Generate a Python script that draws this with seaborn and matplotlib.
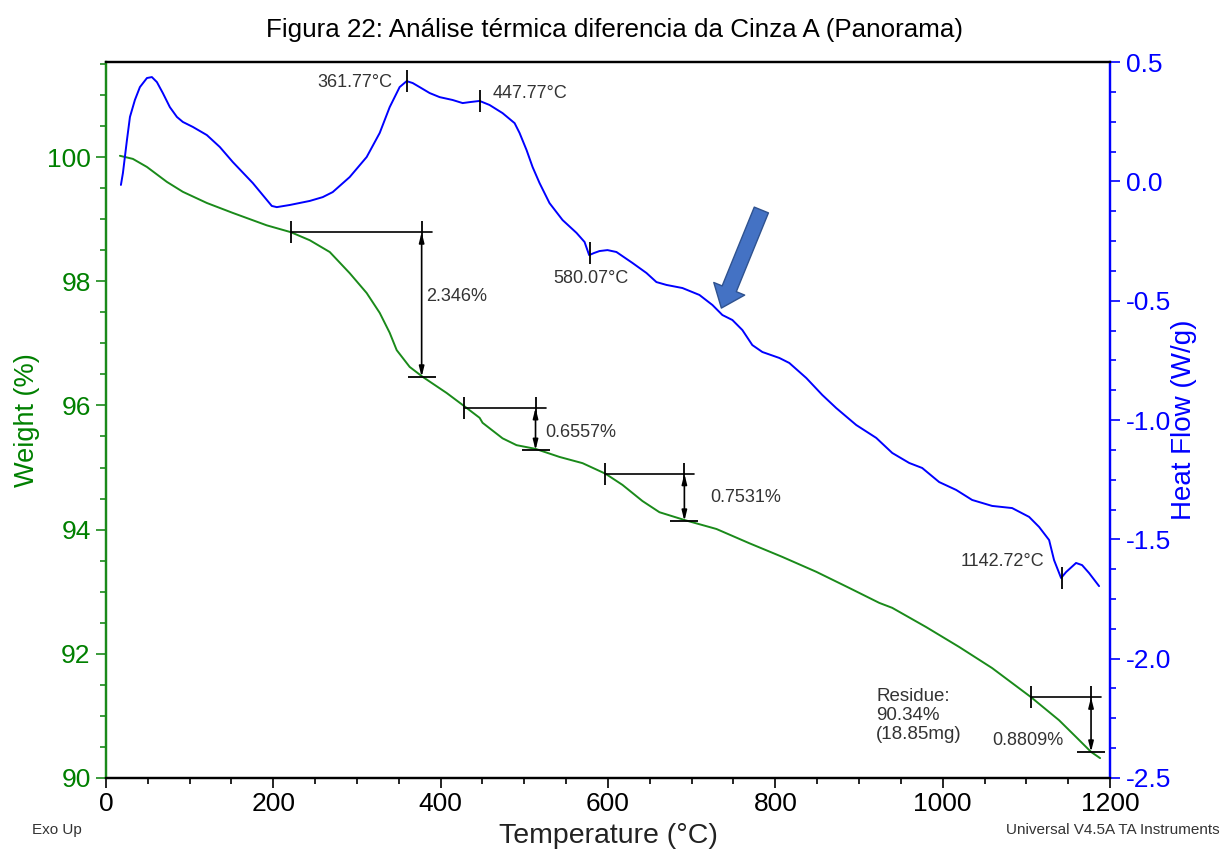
import matplotlib
matplotlib.use("Agg")
import matplotlib.pyplot as plt
import seaborn as sns
import pandas as pd
from matplotlib.ticker import MultipleLocator

sns.set_style("ticks")
plt.rcParams["font.family"] = ["Liberation Sans", "DejaVu Sans"]

# ---------------- data ----------------
temp_w = [16.7, 32.2, 49.0, 72.8, 91.9, 120.6, 151.6, 192.2, 220.9, 243.6, 267.5,
          291.3, 311.6, 327.2, 339.1, 347.5, 363.0, 378.5, 407.2, 431.0, 446.6,
          450.1, 474.0, 490.7, 513.4, 542.1, 569.6, 597.0, 617.3, 641.2, 661.5,
          692.5, 729.6, 769.0, 808.4, 849.0, 888.4, 924.2, 939.7, 980.3, 1019.7,
          1059.1, 1105.7, 1139.1, 1159.4, 1177.3, 1188.1]
weight = [100.02, 99.97, 99.84, 99.60, 99.44, 99.26, 99.10, 98.90, 98.79, 98.66, 98.47,
          98.13, 97.81, 97.49, 97.17, 96.89, 96.62, 96.46, 96.20, 95.96, 95.80,
          95.72, 95.47, 95.36, 95.30, 95.17, 95.07, 94.90, 94.72, 94.46, 94.28,
          94.15, 94.01, 93.78, 93.56, 93.32, 93.06, 92.82, 92.74, 92.43, 92.11,
          91.77, 91.30, 90.93, 90.66, 90.42, 90.32]

temp_hf = [17.9, 20.3, 25.1, 28.7, 34.6, 40.6, 49.0, 54.9, 60.9, 68.0, 76.4, 84.8,
           91.9, 103.9, 120.6, 136.1, 151.6, 175.5, 198.2, 204.2, 219.7, 243.6,
           259.1, 271.0, 291.3, 311.6, 327.2, 339.1, 351.0, 359.4, 366.6, 374.9,
           386.9, 398.8, 414.3, 426.3, 434.6, 446.6, 458.5, 474.0, 488.4, 494.3,
           502.7, 509.9, 518.2, 530.1, 545.7, 562.4, 572.0, 577.5, 583.5, 589.9,
           599.4, 610.1, 629.3, 646.0, 657.9, 669.9, 689.0, 709.3, 724.8, 736.7,
           748.7, 760.6, 772.5, 784.5, 804.8, 816.7, 837.0, 856.1, 872.8, 896.7,
           920.6, 939.7, 960.0, 975.5, 995.8, 1016.1, 1035.2, 1059.1, 1083.0,
           1103.3, 1115.2, 1127.2, 1133.1, 1141.5, 1147.5, 1159.4, 1166.6,
           1174.9, 1186.9]
heat_flow = [-0.015, 0.035, 0.173, 0.27, 0.341, 0.395, 0.433, 0.437, 0.416, 0.37,
             0.311, 0.27, 0.249, 0.228, 0.194, 0.144, 0.081, -0.007, -0.103, -0.108,
             -0.099, -0.082, -0.066, -0.045, 0.018, 0.102, 0.203, 0.311, 0.395, 0.42,
             0.412, 0.395, 0.37, 0.353, 0.341, 0.328, 0.332, 0.337, 0.32, 0.286,
             0.244, 0.203, 0.131, 0.06, -0.007, -0.091, -0.162, -0.216, -0.254,
             -0.309, -0.30, -0.292, -0.288, -0.296, -0.342, -0.384, -0.422, -0.434,
             -0.447, -0.476, -0.518, -0.56, -0.581, -0.623, -0.686, -0.715, -0.74,
             -0.761, -0.824, -0.895, -0.95, -1.021, -1.075, -1.138, -1.18, -1.201,
             -1.26, -1.293, -1.335, -1.36, -1.369, -1.406, -1.448, -1.503, -1.587,
             -1.662, -1.637, -1.599, -1.608, -1.641, -1.696]

# weight-loss steps
step_start_t = [221.0, 427.5, 597.0, 1105.7]
step_end_t = [377.3, 513.4, 691.3, 1177.3]
step_top_w = [98.79, 95.96, 94.90, 91.30]
step_bot_w = [96.46, 95.28, 94.14, 90.42]
step_labels = ["2.346%", "0.6557%", "0.7531%", "0.8809%"]

# heat-flow peak markers
peak_t = [359.4, 446.6, 578.4, 1142.7]
peak_hf = [0.42, 0.337, -0.302, -1.662]
peak_labels = ["361.77°C", "447.77°C", "580.07°C", "1142.72°C"]

GREEN_LINE = "#1a8a1a"
GREEN_TXT = "#008000"
BLUE = "#0000ff"
TXT = "#333333"

df_w = pd.DataFrame({"Temperature": temp_w, "Weight": weight})
df_h = pd.DataFrame({"Temperature": temp_hf, "HeatFlow": heat_flow})

fig = plt.figure(figsize=(12.29, 8.51), dpi=100)
ax = fig.add_axes([0.0862, 0.0858, 0.9032 - 0.0862, 0.9271 - 0.0858])

sns.lineplot(data=df_w, x="Temperature", y="Weight", ax=ax, color=GREEN_LINE,
             lw=1.4, estimator=None, sort=False)
ax2 = ax.twinx()
sns.lineplot(data=df_h, x="Temperature", y="HeatFlow", ax=ax2, color=BLUE,
             lw=1.4, estimator=None, sort=False)

ax.set_xlim(0, 1200)
ax.set_ylim(90, 90 + 716 / 62.1)
ax2.set_ylim(-2.5, 0.5)

ax.xaxis.set_major_locator(MultipleLocator(200))
ax.xaxis.set_minor_locator(MultipleLocator(50))
ax.yaxis.set_major_locator(MultipleLocator(2))
ax.yaxis.set_minor_locator(MultipleLocator(0.5))
ax2.yaxis.set_minor_locator(MultipleLocator(0.125))
ax2.set_yticks([0.5, 0.0, -0.5, -1.0, -1.5, -2.0, -2.5])
ax2.set_yticklabels(["0.5", "0.0", "-0.5", "-1.0", "-1.5", "-2.0", "-2.5"])

ax.tick_params(axis="x", which="major", length=7, width=1.2, colors="black",
               labelsize=19, pad=3)
ax.tick_params(axis="x", which="minor", length=4, width=1.2, colors="black")
ax.tick_params(axis="y", which="major", length=7, width=1.2, colors=GREEN_LINE,
               labelcolor=GREEN_TXT, labelsize=19, pad=4)
ax.tick_params(axis="y", which="minor", length=4, width=1.2, colors=GREEN_LINE)
ax2.tick_params(axis="y", which="major", length=7, width=1.2, colors=BLUE,
                labelcolor=BLUE, labelsize=19, pad=4.5)
ax2.tick_params(axis="y", which="minor", length=4, width=1.2, colors=BLUE)

for a in (ax, ax2):
    a.spines["top"].set_color("black")
    a.spines["bottom"].set_color("black")
    a.spines["top"].set_linewidth(1.6)
    a.spines["bottom"].set_linewidth(1.6)
    a.spines["left"].set_color(GREEN_LINE)
    a.spines["right"].set_color(BLUE)
    a.spines["left"].set_linewidth(1.6)
    a.spines["right"].set_linewidth(1.6)

ax.set_xlabel("Temperature (°C)", fontsize=20.5, color="#222222", labelpad=5)
ax.set_ylabel("Weight (%)", fontsize=19.5, color=GREEN_TXT, labelpad=5)
ax2.set_ylabel("Heat Flow (W/g)", fontsize=20, color=BLUE, labelpad=0)

# weight-loss step annotations
ext = 12
for t1, t2, wt, wb, lab in zip(step_start_t, step_end_t, step_top_w, step_bot_w, step_labels):
    ax.plot([t1, t2 + ext], [wt, wt], color="black", lw=1.2)
    ax.plot([t1, t2], [wt, wt], ls="none", marker="|", ms=16, mew=1.3, color="black")
    ax.plot([t2], [wb], ls="none", marker="_", ms=20, mew=1.3, color="black")
    ax.annotate("", xy=(t2, wb), xytext=(t2, wt),
                arrowprops=dict(arrowstyle="<|-|>,head_length=0.6,head_width=0.15",
                                color="black", lw=1.2, shrinkA=0, shrinkB=0))

ax.text(383, 97.76, step_labels[0], fontsize=13, color=TXT, ha="left", va="center")
ax.text(525, 95.56, step_labels[1], fontsize=13, color=TXT, ha="left", va="center")
ax.text(722, 94.51, step_labels[2], fontsize=13, color=TXT, ha="left", va="center")
ax.text(1059, 90.61, step_labels[3], fontsize=13, color=TXT, ha="left", va="center")
ax.text(920.6, 91.45, "Residue:\n90.34%\n(18.85mg)", fontsize=13.5, color=TXT,
        ha="left", va="top", linespacing=1.15)

# peak markers
ax2.plot(peak_t, peak_hf, ls="none", marker="|", ms=16, mew=1.3, color="black")
ax2.text(342.7, 0.416, peak_labels[0], fontsize=13, color=TXT, ha="right", va="center")
ax2.text(462, 0.370, peak_labels[1], fontsize=13, color=TXT, ha="left", va="center")
ax2.text(580, -0.405, peak_labels[2], fontsize=13, color=TXT, ha="center", va="center")
ax2.text(1121, -1.591, peak_labels[3], fontsize=13, color=TXT, ha="right", va="center")

# highlighted block arrow
ax2.annotate("", xy=(735.5, -0.531), xytext=(783.3, -0.120),
             arrowprops=dict(arrowstyle="simple,head_length=0.75,head_width=1.2,tail_width=0.55",
                             fc="#4472C4", ec="#2F528F", lw=1.0, shrinkA=0, shrinkB=0,
                             mutation_scale=20))

fig.text(0.4996, 0.9647, "Figura 22: Análise térmica diferencia da Cinza A (Panorama)",
         fontsize=18.7, color="black", ha="center", va="center")
fig.text(32 / 1229, 1 - 830 / 851, "Exo Up", fontsize=11, color=TXT, ha="left", va="center")
fig.text(1220 / 1229, 1 - 830 / 851, "Universal V4.5A TA Instruments", fontsize=11,
         color=TXT, ha="right", va="center")

fig.savefig("out.png", dpi=100)
